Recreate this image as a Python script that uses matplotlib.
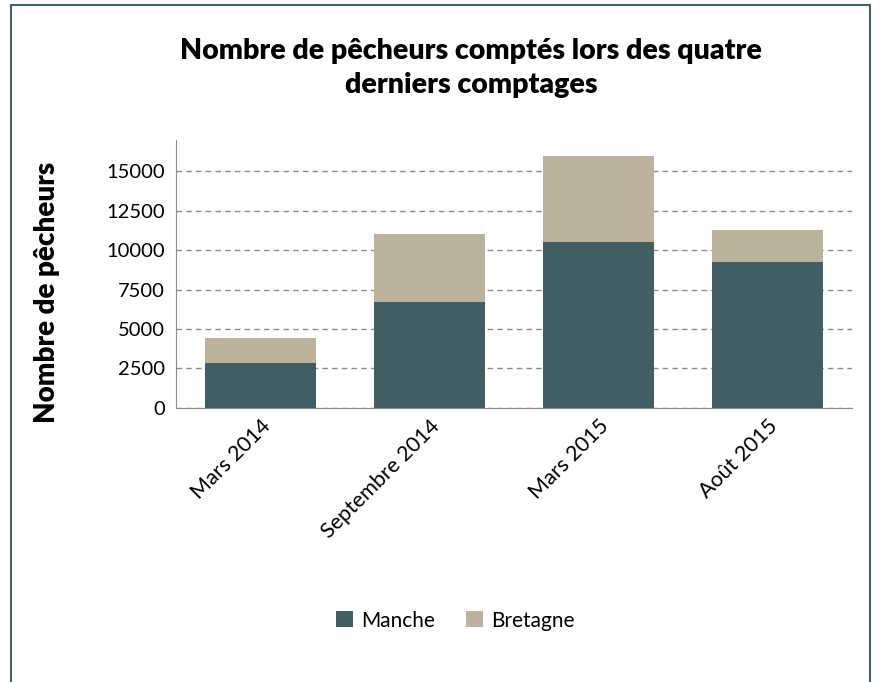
import matplotlib
matplotlib.use("Agg")
import matplotlib.pyplot as plt
from matplotlib.patches import Rectangle

# data
comptages = ["Mars 2014", "Septembre 2014", "Mars 2015", "Août 2015"]
manche = [2820, 6720, 10510, 9220]
bretagne = [1590, 4280, 5440, 2090]
y_ticks = [0, 2500, 5000, 7500, 10000, 12500, 15000]

plt.rcParams["font.family"] = ["Lato", "DejaVu Sans"]

fig = plt.figure(figsize=(8.81, 6.82), dpi=100)
ax = fig.add_axes([0.2, 0.402, 0.767, 0.393])

x = range(len(comptages))
ax.bar(x, manche, width=0.66, color="#425e64", label="Manche", zorder=3)
ax.bar(x, bretagne, width=0.66, bottom=manche, color="#bcb19a", label="Bretagne", zorder=3)

ax.set_xlim(-0.5, len(comptages) - 0.5)
ax.set_ylim(0, 17000)
ax.set_yticks(y_ticks)
ax.yaxis.grid(True, linestyle=(0, (4, 3)), color="#8c8c8c", linewidth=1)
ax.set_axisbelow(True)
ax.tick_params(axis="y", length=0, labelsize=14.5, pad=8)
ax.tick_params(axis="x", length=0, labelsize=15.5, pad=6)
ax.set_xticks(list(x))
ax.set_xticklabels(comptages, rotation=45, ha="right", rotation_mode="anchor")

for s in ["top", "right"]:
    ax.spines[s].set_visible(False)
for s in ["left", "bottom"]:
    ax.spines[s].set_color("#8c8c8c")

ax.set_ylabel("Nombre de pêcheurs", fontsize=20, fontweight="heavy")
ax.yaxis.set_label_coords(-0.172, 0.43)
fig.text(0.535, 0.9, "Nombre de pêcheurs comptés lors des quatre\nderniers comptages",
         ha="center", va="center", fontsize=20.5, fontweight="heavy", linespacing=1.4)

fig.legend(loc="center", bbox_to_anchor=(0.517, 0.09), ncol=2, frameon=False,
           fontsize=15, handlelength=0.8, handleheight=0.8, columnspacing=1.5, handletextpad=0.4)

# chart border
fig.patches.append(Rectangle((0.012, -0.01), 0.975, 1.003, transform=fig.transFigure,
                             fill=False, edgecolor="#46606a", linewidth=1.5))

fig.savefig("out.png", dpi=100)
